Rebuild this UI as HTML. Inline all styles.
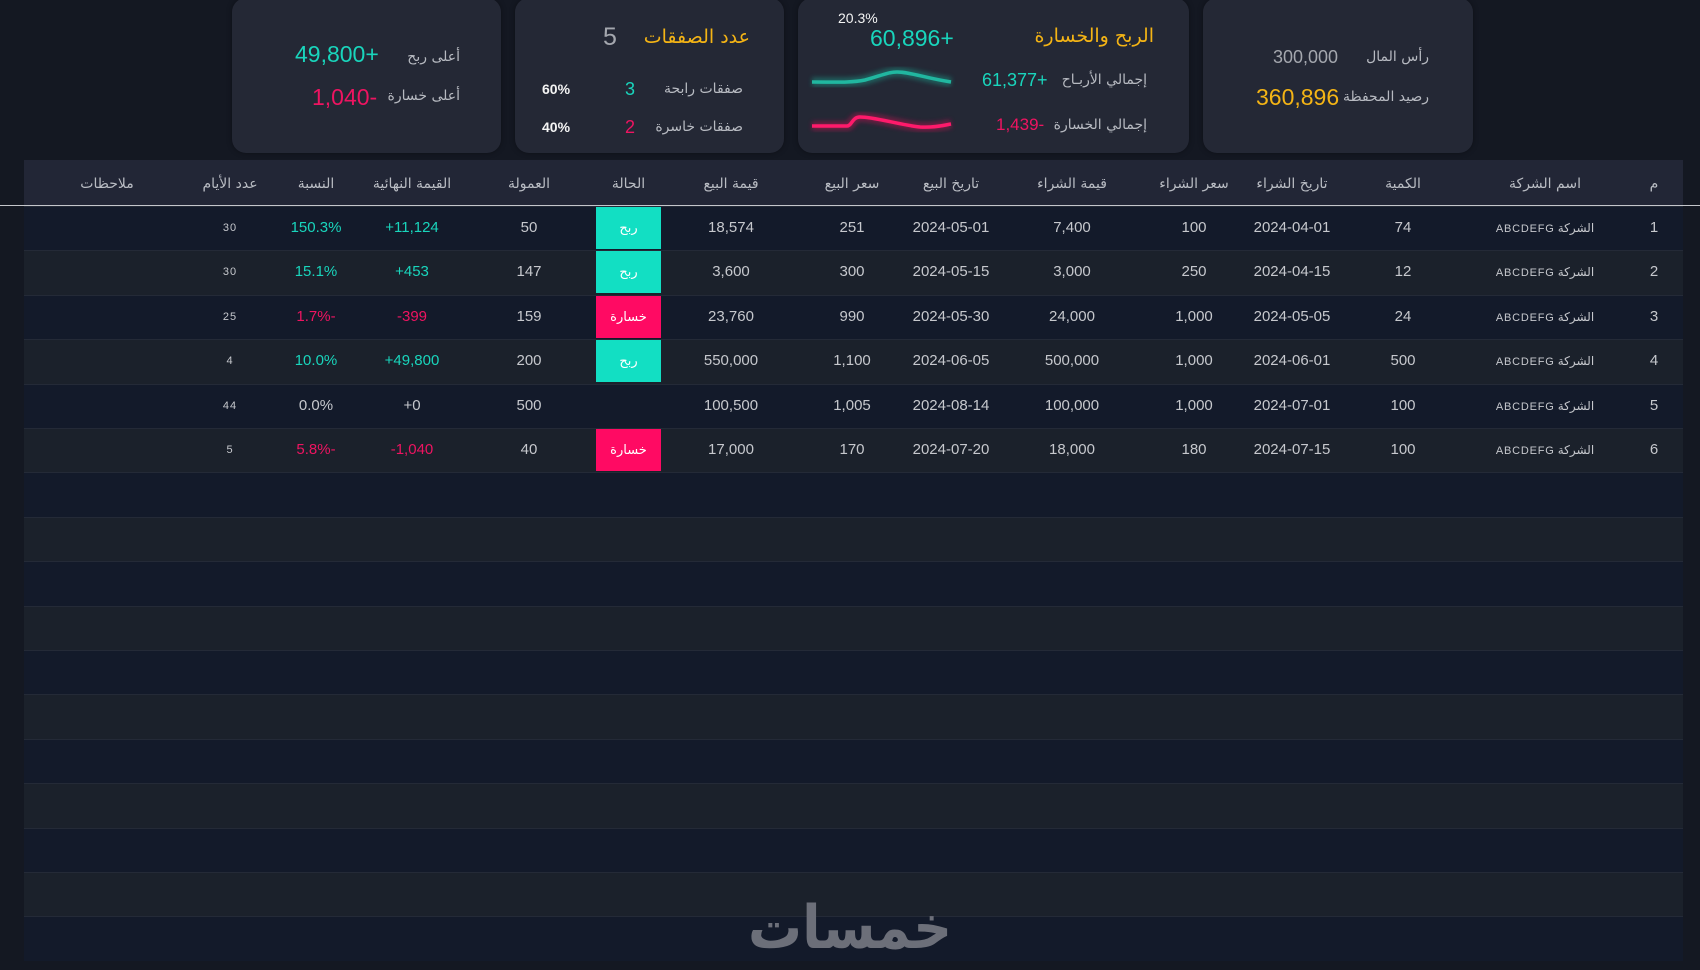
<!DOCTYPE html>
<html><head><meta charset="utf-8">
<style>
*{margin:0;padding:0;box-sizing:border-box}
html,body{width:1700px;height:970px;overflow:hidden;background:#141822;font-family:"Liberation Sans","DejaVu Sans",sans-serif}
.card{position:absolute;top:-2px;height:155px;background:#242835;border-radius:14px;box-shadow:0 0 6px rgba(0,0,0,.35)}
.t{position:absolute;white-space:nowrap;line-height:24px;height:24px}
.n{unicode-bidi:bidi-override;direction:ltr}
.r{text-align:right}
.lab{font-size:14px;color:#b7bac1;font-family:"DejaVu Sans",sans-serif}
.teal{color:#19d5bc}.pink{color:#ee1461}.yel{color:#f4b415}.gry{color:#a4a7ae}.wht{color:#f4f4f4}
#hdr{position:absolute;left:24px;top:160px;width:1659px;height:45px;background:#222636;display:flex}
#hdr div{text-align:center;line-height:45px;font-size:14px;color:#b9bcc3;font-family:"DejaVu Sans",sans-serif;padding-top:2px}
#line{position:absolute;left:0;top:204.5px;width:1700px;height:1.5px;background:#c4c6cb}
.row{position:absolute;left:24px;width:1659px;height:44.4px;display:flex;border-top:1px solid #242a37}
.row.o{background:#131a2a}.row.e{background:#1b212b}
.row div{text-align:center;line-height:42px;font-size:15px;color:#c6c8cd;white-space:nowrap}
.row div:not(.bw):not(.co){unicode-bidi:bidi-override;direction:ltr}
.row div.sm{font-size:11px;letter-spacing:1px;color:#c6c8cd}
.row div.co{font-size:11px}
.row div.co b{font-weight:normal;letter-spacing:0.8px}
.row div.co span{font-family:"DejaVu Sans",sans-serif;font-size:12px}
.row div.bw{color:#fff;font-size:13px;font-family:"DejaVu Sans",sans-serif;height:42px;line-height:44px}
.row div.bg{background:#12dfc3}.row div.bp{background:#ff0a63}
.row div.tl{color:#19d5bc}.row div.pk{color:#ee1461}
</style></head><body>

<!-- Card 1 -->
<div class="card" style="left:232px;width:269px"></div>
<div class="t r lab" style="right:1240px;top:45px">أعلى ربح</div>
<div class="t teal n" style="left:295px;top:42px;font-size:23px">49,800+</div>
<div class="t r lab" style="right:1240px;top:84px">أعلى خسارة</div>
<div class="t pink n" style="left:312px;top:85px;font-size:23px">1,040-</div>

<!-- Card 2 -->
<div class="card" style="left:515px;width:269px"></div>
<div class="t r yel" style="right:950px;top:25px;font-size:19px;font-family:'DejaVu Sans',sans-serif">عدد الصفقات</div>
<div class="t gry n" style="left:603px;top:25px;font-size:25px">5</div>
<div class="t r lab" style="right:957px;top:77px">صفقات رابحة</div>
<div class="t teal n" style="left:625px;top:77px;font-size:18px">3</div>
<div class="t wht n" style="left:542px;top:77px;font-size:14px;font-weight:bold">60%</div>
<div class="t r lab" style="right:957px;top:115px">صفقات خاسرة</div>
<div class="t pink n" style="left:625px;top:115px;font-size:18px">2</div>
<div class="t wht n" style="left:542px;top:115px;font-size:14px;font-weight:bold">40%</div>

<!-- Card 3 -->
<div class="card" style="left:798px;width:391px"></div>
<div class="t r yel" style="right:546px;top:24px;font-size:19px;font-family:'DejaVu Sans',sans-serif">الربح والخسارة</div>
<div class="t teal n" style="left:870px;top:26px;font-size:23px">60,896+</div>
<div class="t wht n" style="left:838px;top:6px;font-size:14px">20.3%</div>
<div class="t r lab" style="right:553px;top:68px">إجمالي الأربـاح</div>
<div class="t teal n" style="left:982px;top:68px;font-size:18px">61,377+</div>
<div class="t r lab" style="right:553px;top:113px">إجمالي الخسارة</div>
<div class="t pink n" style="left:996px;top:113px;font-size:17px">1,439-</div>

<!-- Card 4 -->
<div class="card" style="left:1203px;width:270px"></div>
<div class="t r lab" style="right:271px;top:45px">رأس المال</div>
<div class="t gry n" style="left:1273px;top:45px;font-size:18px">300,000</div>
<div class="t r lab" style="right:271px;top:85px">رصيد المحفظة</div>
<div class="t yel n" style="left:1256px;top:85px;font-size:23px">360,896</div>

<!-- Table header -->
<div id="hdr">
<div style="width:166px">ملاحظات</div>
<div style="width:80px">عدد الأيام</div>
<div style="width:92px">النسبة</div>
<div style="width:100px">القيمة النهائية</div>
<div style="width:134px">العمولة</div>
<div style="width:65px">الحالة</div>
<div style="width:140px">قيمة البيع</div>
<div style="width:102px">سعر البيع</div>
<div style="width:96px">تاريخ البيع</div>
<div style="width:146px">قيمة الشراء</div>
<div style="width:98px">سعر الشراء</div>
<div style="width:98px">تاريخ الشراء</div>
<div style="width:124px">الكمية</div>
<div style="width:160px">اسم الشركة</div>
<div style="width:58px">م</div>
</div>
<div id="line"></div>

<!-- Rows -->
<div class="row o" style="top:206px">
<div style="width:166px"></div><div class="sm" style="width:80px">30</div><div class="tl" style="width:92px">150.3%</div><div class="tl" style="width:100px">+11,124</div><div style="width:134px">50</div><div class="bw bg" style="width:65px">ربح</div><div style="width:140px">18,574</div><div style="width:102px">251</div><div style="width:96px">2024-05-01</div><div style="width:146px">7,400</div><div style="width:98px">100</div><div style="width:98px">2024-04-01</div><div style="width:124px">74</div><div class="co" style="width:160px"><b>ABCDEFG</b> <span>الشركة</span></div><div style="width:58px">1</div>
</div>
<div class="row e" style="top:250.4px">
<div style="width:166px"></div><div class="sm" style="width:80px">30</div><div class="tl" style="width:92px">15.1%</div><div class="tl" style="width:100px">+453</div><div style="width:134px">147</div><div class="bw bg" style="width:65px">ربح</div><div style="width:140px">3,600</div><div style="width:102px">300</div><div style="width:96px">2024-05-15</div><div style="width:146px">3,000</div><div style="width:98px">250</div><div style="width:98px">2024-04-15</div><div style="width:124px">12</div><div class="co" style="width:160px"><b>ABCDEFG</b> <span>الشركة</span></div><div style="width:58px">2</div>
</div>
<div class="row o" style="top:294.8px">
<div style="width:166px"></div><div class="sm" style="width:80px">25</div><div class="pk" style="width:92px">1.7%-</div><div class="pk" style="width:100px">-399</div><div style="width:134px">159</div><div class="bw bp" style="width:65px">خسارة</div><div style="width:140px">23,760</div><div style="width:102px">990</div><div style="width:96px">2024-05-30</div><div style="width:146px">24,000</div><div style="width:98px">1,000</div><div style="width:98px">2024-05-05</div><div style="width:124px">24</div><div class="co" style="width:160px"><b>ABCDEFG</b> <span>الشركة</span></div><div style="width:58px">3</div>
</div>
<div class="row e" style="top:339.2px">
<div style="width:166px"></div><div class="sm" style="width:80px">4</div><div class="tl" style="width:92px">10.0%</div><div class="tl" style="width:100px">+49,800</div><div style="width:134px">200</div><div class="bw bg" style="width:65px">ربح</div><div style="width:140px">550,000</div><div style="width:102px">1,100</div><div style="width:96px">2024-06-05</div><div style="width:146px">500,000</div><div style="width:98px">1,000</div><div style="width:98px">2024-06-01</div><div style="width:124px">500</div><div class="co" style="width:160px"><b>ABCDEFG</b> <span>الشركة</span></div><div style="width:58px">4</div>
</div>
<div class="row o" style="top:383.6px">
<div style="width:166px"></div><div class="sm" style="width:80px">44</div><div style="width:92px">0.0%</div><div style="width:100px">+0</div><div style="width:134px">500</div><div style="width:65px"></div><div style="width:140px">100,500</div><div style="width:102px">1,005</div><div style="width:96px">2024-08-14</div><div style="width:146px">100,000</div><div style="width:98px">1,000</div><div style="width:98px">2024-07-01</div><div style="width:124px">100</div><div class="co" style="width:160px"><b>ABCDEFG</b> <span>الشركة</span></div><div style="width:58px">5</div>
</div>
<div class="row e" style="top:428px">
<div style="width:166px"></div><div class="sm" style="width:80px">5</div><div class="pk" style="width:92px">5.8%-</div><div class="pk" style="width:100px">-1,040</div><div style="width:134px">40</div><div class="bw bp" style="width:65px">خسارة</div><div style="width:140px">17,000</div><div style="width:102px">170</div><div style="width:96px">2024-07-20</div><div style="width:146px">18,000</div><div style="width:98px">180</div><div style="width:98px">2024-07-15</div><div style="width:124px">100</div><div class="co" style="width:160px"><b>ABCDEFG</b> <span>الشركة</span></div><div style="width:58px">6</div>
</div>
<div class="row o" style="top:472.4px"></div>
<div class="row e" style="top:516.8px"></div>
<div class="row o" style="top:561.2px"></div>
<div class="row e" style="top:605.6px"></div>
<div class="row o" style="top:650px"></div>
<div class="row e" style="top:694.4px"></div>
<div class="row o" style="top:738.8px"></div>
<div class="row e" style="top:783.2px"></div>
<div class="row o" style="top:827.6px"></div>
<div class="row e" style="top:872px"></div>
<div class="row o" style="top:916.4px"></div>

<svg style="position:absolute;left:0;top:0" width="1700" height="970" viewBox="0 0 1700 970">
<defs>
<filter id="gl" x="-10%" y="-50%" width="120%" height="200%"><feGaussianBlur stdDeviation="2.5"/></filter>
</defs>
<g fill="none" stroke-linecap="butt">
<path d="M812,82 C835,82 850,83 865,80 C880,76 888,72 897,72 C910,72 925,78 951,82" stroke="#1a8f80" stroke-width="9" opacity="0.55" filter="url(#gl)"/>
<path d="M812,82 C835,82 850,83 865,80 C880,76 888,72 897,72 C910,72 925,78 951,82" stroke="#21b7a0" stroke-width="3.5"/>
<path d="M812,126 L847,126 C852,126 852,117 860,117 C875,117 900,125 920,127 C935,128 945,125 951,124" stroke="#b0134e" stroke-width="9" opacity="0.55" filter="url(#gl)"/>
<path d="M812,126 L847,126 C852,126 852,117 860,117 C875,117 900,125 920,127 C935,128 945,125 951,124" stroke="#ff1a6b" stroke-width="3.5"/>
</g>
<text x="748" y="948" textLength="204" lengthAdjust="spacingAndGlyphs" font-family="DejaVu Sans, sans-serif" font-weight="bold" font-size="60" fill="#6c6f79">خمسات</text>
</svg>
</body></html>
